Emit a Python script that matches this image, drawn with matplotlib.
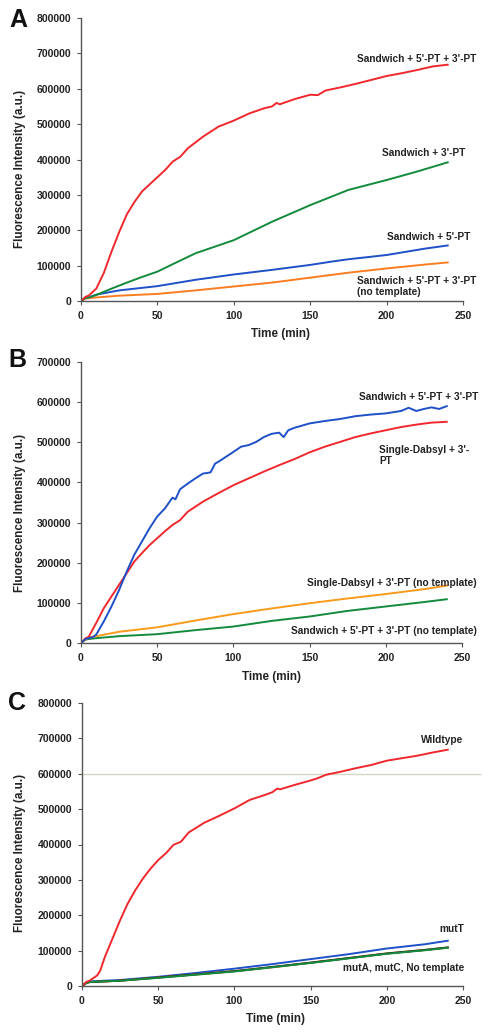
import matplotlib
matplotlib.use("Agg")
import matplotlib.pyplot as plt

plt.rcParams['font.family'] = ['Liberation Sans', 'DejaVu Sans']

# ---------------- Panel A data ----------------
tA_red = [0, 3, 5, 10, 15, 20, 25, 30, 35, 40, 45, 50, 55, 60, 65, 70, 80, 90, 100, 110, 120, 125, 128, 130, 140, 150, 155, 160, 170, 180, 190, 200, 210, 220, 230, 240]
yA_red = [0, 12000, 15000, 35000, 80000, 140000, 195000, 245000, 280000, 310000, 330000, 350000, 370000, 394000, 408000, 432000, 465000, 493000, 510000, 530000, 545000, 550000, 560000, 556000, 571000, 583000, 582000, 595000, 604000, 614000, 625000, 636000, 644000, 653000, 663000, 668000]
tA_green = [0, 3, 5, 10, 20, 30, 40, 50, 60, 75, 100, 125, 150, 175, 200, 220, 240]
yA_green = [0, 9000, 10000, 17000, 35000, 52000, 68000, 83000, 104000, 135000, 172000, 224000, 271000, 314000, 342000, 366000, 392000]
tA_blue = [0, 3, 5, 10, 25, 50, 75, 100, 125, 150, 165, 175, 200, 225, 240]
yA_blue = [0, 9000, 10000, 18000, 30000, 42000, 60000, 75000, 88000, 102000, 112000, 118000, 130000, 148000, 157000]
tA_orange = [0, 3, 5, 10, 25, 50, 75, 100, 125, 150, 175, 200, 225, 240]
yA_orange = [0, 7000, 8000, 10000, 15000, 20000, 30000, 41000, 52000, 66000, 80000, 92000, 103000, 109000]

# ---------------- Panel B data ----------------
tB_blue = [0, 3, 5, 8, 10, 15, 20, 25, 30, 35, 40, 45, 50, 55, 60, 62, 65, 70, 75, 80, 85, 88, 90, 100, 105, 110, 115, 120, 125, 130, 133, 136, 140, 150, 160, 170, 180, 190, 200, 210, 215, 220, 225, 230, 235, 240]
yB_blue = [0, 10000, 12000, 15000, 21000, 54000, 91000, 132000, 178000, 220000, 253000, 286000, 315000, 335000, 362000, 358000, 383000, 397000, 410000, 422000, 425000, 447000, 451000, 476000, 489000, 493000, 501000, 513000, 521000, 524000, 513000, 530000, 536000, 547000, 553000, 558000, 565000, 569000, 572000, 578000, 586000, 578000, 583000, 587000, 583000, 590000]
tB_red = [0, 3, 5, 10, 15, 20, 25, 30, 35, 40, 45, 50, 55, 60, 65, 70, 80, 90, 100, 110, 120, 130, 140, 150, 160, 170, 180, 190, 200, 210, 220, 230, 240]
yB_red = [0, 12000, 15000, 50000, 87000, 116000, 145000, 174000, 203000, 224000, 244000, 261000, 278000, 294000, 306000, 327000, 352000, 373000, 393000, 410000, 427000, 443000, 458000, 475000, 489000, 501000, 513000, 522000, 530000, 538000, 544000, 549000, 551000]
tB_orange = [0, 3, 5, 10, 25, 50, 75, 100, 125, 150, 175, 200, 225, 240]
yB_orange = [0, 8000, 14000, 17000, 28000, 39000, 56000, 72000, 86000, 99000, 111000, 122000, 134000, 143000]
tB_green = [0, 3, 5, 10, 25, 50, 75, 100, 125, 150, 175, 200, 225, 240]
yB_green = [0, 8000, 10000, 12000, 17000, 22000, 32000, 41000, 55000, 66000, 80000, 91000, 102000, 109000]

# ---------------- Panel C data ----------------
tC_red = [0, 3, 5, 10, 12, 15, 20, 25, 30, 35, 40, 45, 50, 55, 60, 65, 70, 80, 90, 100, 110, 120, 125, 128, 130, 140, 150, 155, 160, 170, 180, 190, 200, 210, 220, 230, 240]
yC_red = [0, 12000, 15000, 30000, 44000, 82000, 134000, 186000, 233000, 271000, 304000, 332000, 356000, 375000, 399000, 408000, 434000, 461000, 481000, 502000, 526000, 540000, 548000, 558000, 556000, 569000, 581000, 588000, 597000, 606000, 616000, 625000, 637000, 644000, 651000, 660000, 668000]
tC_low = [0, 3, 5, 25, 50, 75, 100, 125, 150, 175, 200, 225, 240]
yC_blue = [0, 10000, 13000, 17000, 26000, 37000, 49000, 62000, 76000, 90000, 106000, 118000, 128000]
yC_orange = [0, 9000, 11000, 15000, 24000, 33000, 42000, 53000, 66000, 79000, 92000, 102000, 109000]
yC_black = [0, 9000, 11000, 15000, 24000, 33000, 42000, 54000, 66000, 79000, 92000, 102000, 109000]
yC_green = [0, 9000, 11000, 15000, 23000, 32000, 41000, 53000, 65000, 78000, 91000, 101000, 108000]

RED = '#f0282d'
GREEN = '#138a3c'
BLUE = '#1f50c8'
ORANGE = '#fb7d22'
ORANGE_B = '#fa9a1c'
BLACK = '#222222'

W, H = 489, 1035
fig = plt.figure(figsize=(W / 100, H / 100), dpi=100)


def make_axes(left_px, right_px, top_px, bottom_px):
    ax = fig.add_axes([left_px / W, 1 - bottom_px / H, (right_px - left_px) / W, (bottom_px - top_px) / H])
    return ax


def style(ax, ymax, xlab_xy, ylab_xy):
    ax.set_xlim(0, 250)
    ax.set_ylim(0, ymax)
    ax.set_xticks(range(0, 251, 50))
    ax.set_yticks(range(0, ymax + 1, 100000))
    ax.set_yticklabels([str(v) for v in range(0, ymax + 1, 100000)])
    for s in ['top', 'right']:
        ax.spines[s].set_visible(False)
    for s in ['left', 'bottom']:
        ax.spines[s].set_color('#555555')
        ax.spines[s].set_linewidth(1.0)
    ax.tick_params(direction='out', length=3, width=0.8, color='#555555',
                   labelsize=7.5, labelcolor='#222222')
    ax.tick_params(axis='y', pad=4)
    ax.tick_params(axis='x', pad=4)
    for lab in ax.get_xticklabels() + ax.get_yticklabels():
        lab.set_fontweight('bold')
    ax.set_xlabel('Time (min)', fontsize=8.4, fontweight='bold', color='#222222')
    ax.set_ylabel('Fluorescence Intensity (a.u.)', fontsize=8.4, fontweight='bold', color='#222222')
    ax.xaxis.set_label_coords(*xlab_xy)
    ax.yaxis.set_label_coords(*ylab_xy)
    ax.patch.set_alpha(0)


lw = 1.4
tkw = dict(fontsize=7.3, fontweight='bold', color='#222222', clip_on=False)
pkw = dict(fontsize=18, fontweight='bold', ha='center', va='center', color='#111111')

# Panel A
axA = make_axes(81, 463, 18, 301)
axA.plot(tA_orange, yA_orange, color=ORANGE, lw=lw)
axA.plot(tA_blue, yA_blue, color=BLUE, lw=lw)
axA.plot(tA_green, yA_green, color=GREEN, lw=lw)
axA.plot(tA_red, yA_red, color=RED, lw=lw)
style(axA, 800000, (0.521, -0.094), (-0.145, 0.466))
axA.text(258.5, 684000, "Sandwich + 5'-PT + 3'-PT", ha='right', va='center', **tkw)
axA.text(251.3, 418000, "Sandwich + 3'-PT", ha='right', va='center', **tkw)
axA.text(254.6, 181000, "Sandwich + 5'-PT", ha='right', va='center', **tkw)
axA.text(180.6, 41000, "Sandwich + 5'-PT + 3'-PT\n(no template)", ha='left', va='center',
         linespacing=1.2, **tkw)
fig.text(18 / W, 1 - 20 / H, 'A', **pkw)

# Panel B
axB = make_axes(81, 462, 362, 643)
axB.plot(tB_green, yB_green, color=GREEN, lw=lw)
axB.plot(tB_orange, yB_orange, color=ORANGE_B, lw=lw)
axB.plot(tB_red, yB_red, color=RED, lw=lw)
axB.plot(tB_blue, yB_blue, color=BLUE, lw=lw)
style(axB, 700000, (0.501, -0.101), (-0.145, 0.463))
axB.text(260.5, 613000, "Sandwich + 5'-PT + 3'-PT", ha='right', va='center', **tkw)
axB.text(195.5, 468000, "Single-Dabsyl + 3'-\nPT", ha='left', va='center', linespacing=1.15, **tkw)
axB.text(259.8, 149000, "Single-Dabsyl + 3'-PT (no template)", ha='right', va='center', **tkw)
axB.text(259.8, 30000, "Sandwich + 5'-PT + 3'-PT (no template)", ha='right', va='center', **tkw)
fig.text(17 / W, 1 - 360 / H, 'B', **pkw)

# Panel C
axC = make_axes(82, 463, 703, 986)
axC.axhline(600000, xmin=0, xmax=(480 - 82) / (463 - 82), color='#d5d5c5', lw=1.0, clip_on=False, zorder=0)
axC.plot(tC_low, yC_blue, color=BLUE, lw=lw)
axC.plot(tC_low, yC_orange, color=ORANGE, lw=lw)
axC.plot(tC_low, yC_black, color=BLACK, lw=lw)
axC.plot(tC_low, yC_green, color=GREEN, lw=lw)
axC.plot(tC_red, yC_red, color=RED, lw=lw)
style(axC, 800000, (0.507, -0.094), (-0.148, 0.47))
axC.text(250, 695000, "Wildtype", ha='right', va='center', **tkw)
axC.text(250.7, 161000, "mutT", ha='right', va='center', **tkw)
axC.text(250.7, 51000, "mutA, mutC, No template", ha='right', va='center', **tkw)
fig.text(17 / W, 1 - 703 / H, 'C', **pkw)

fig.savefig('out.png', dpi=100)
